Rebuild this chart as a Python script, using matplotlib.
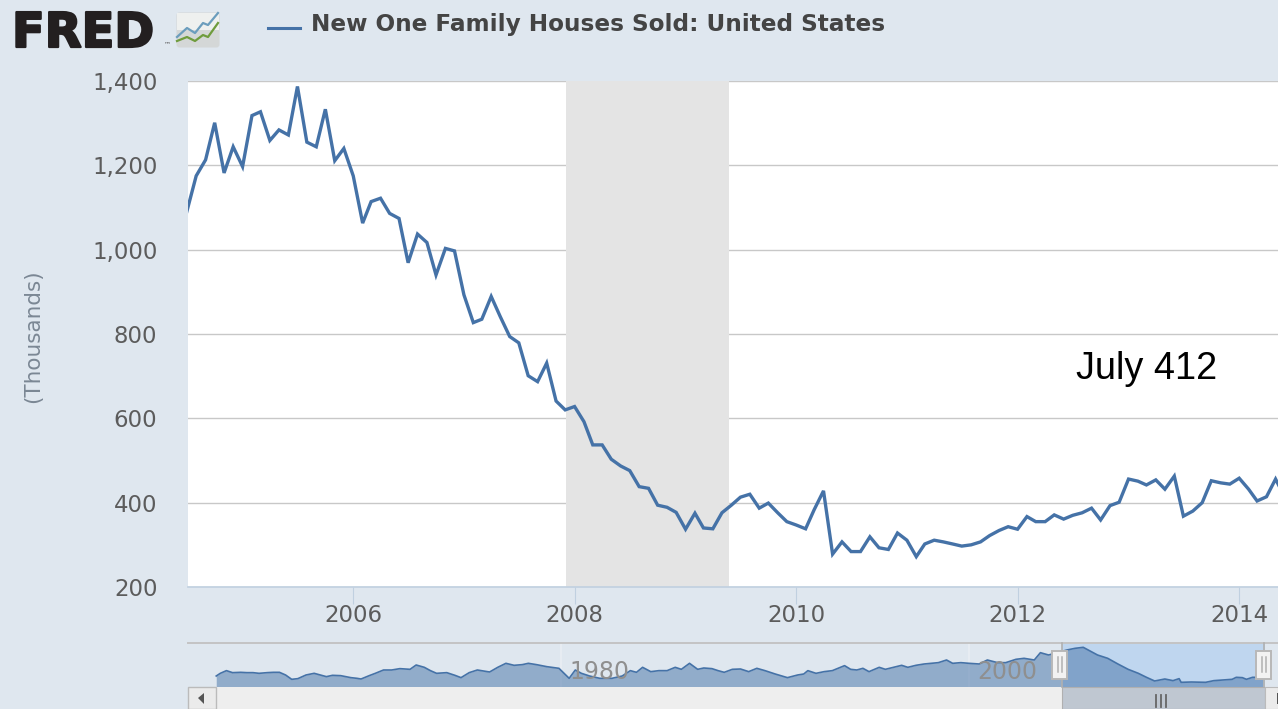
import matplotlib
matplotlib.use("Agg")
import matplotlib.pyplot as plt
import matplotlib.dates as mdates
import matplotlib.patheffects as pe
from matplotlib.patches import Rectangle, FancyBboxPatch, Polygon
import pandas as pd

W, H = 1278, 709
BG = "#dfe7ef"
BLUE = "#4572a7"

# ---------- data ----------
start_month = "2004-07-01"
sales = [
    1090, 1175, 1213, 1301, 1182, 1244, 1197, 1318, 1327, 1259, 1284, 1272,
    1387, 1255, 1244, 1333, 1211, 1240, 1175, 1063, 1114, 1122, 1086, 1074,
    969, 1037, 1017, 940, 1003, 997, 893, 827, 835, 889, 841, 794,
    779, 701, 687, 731, 641, 620, 628, 592, 537, 537, 503, 487,
    476, 438, 434, 394, 389, 377, 337, 375, 340, 338, 376, 394,
    413, 420, 387, 399, 376, 355, 347, 338, 383, 428, 278, 307,
    284, 284, 319, 293, 289, 328, 311, 272, 302, 311, 307, 302,
    297, 300, 307, 322, 334, 343, 337, 367, 355, 355, 371, 361,
    370, 376, 387, 359, 393, 401, 456, 451, 442, 454, 432, 463,
    368, 380, 400, 452, 447, 444, 458, 432, 404, 414, 456, 412,
]
recession_start = "2007-12-04"
recession_end = "2009-05-25"
y_ticks = [200, 400, 600, 800, 1000, 1200, 1400]
x_tick_years = [2006, 2008, 2010, 2012, 2014]
x_start = "2004-07-05"
x_end = "2014-05-09"

nav_years = [
    1963.1, 1963.3, 1963.6, 1963.9, 1964.3, 1964.6, 1964.9, 1965.2, 1965.6, 1965.9,
    1966.2, 1966.5, 1966.8, 1967.1, 1967.5, 1967.9, 1968.2, 1968.5, 1968.8, 1969.2,
    1969.7, 1970.0, 1970.2, 1970.6, 1970.9, 1971.3, 1971.7, 1972.1, 1972.6, 1972.9,
    1973.3, 1973.6, 1973.9, 1974.4, 1974.8, 1975.1, 1975.5, 1975.9, 1976.5, 1976.9,
    1977.3, 1977.7, 1978.1, 1978.4, 1978.8, 1979.3, 1979.9, 1980.1, 1980.4, 1980.7,
    1981.0, 1981.4, 1981.9, 1982.5, 1983.0, 1983.4, 1983.7, 1984.0, 1984.4, 1984.8,
    1985.2, 1985.6, 1985.9, 1986.3, 1986.7, 1987.0, 1987.4, 1987.7, 1988.0, 1988.4,
    1988.8, 1989.2, 1989.6, 1990.0, 1990.5, 1991.1, 1991.6, 1991.9, 1992.1, 1992.5,
    1992.9, 1993.3, 1993.9, 1994.2, 1994.5, 1994.8, 1995.1, 1995.6, 1995.9, 1996.3,
    1996.7, 1997.0, 1997.4, 1997.8, 1998.5, 1998.9, 1999.2, 1999.6, 2000.0, 2000.5,
    2000.9, 2001.4, 2001.8, 2002.3, 2002.7, 2003.2, 2003.5, 2003.9, 2004.8, 2005.2,
    2005.6, 2006.0, 2006.3, 2006.8, 2007.3, 2007.8, 2008.3, 2008.7, 2009.1, 2009.6,
    2010.0, 2010.3, 2010.4, 2010.9, 2011.6, 2012.0, 2012.9, 2013.1, 2013.4, 2013.6,
    2013.9, 2014.4,
]
nav_values = [
    487, 570, 653, 591, 601, 591, 591, 570, 591, 601,
    601, 518, 384, 405, 518, 570, 518, 467, 508, 498,
    436, 415, 394, 498, 570, 673, 673, 715, 694, 828,
    756, 653, 570, 591, 508, 436, 591, 673, 611, 756,
    880, 818, 839, 880, 839, 777, 725, 601, 415, 673,
    570, 487, 415, 415, 487, 653, 601, 756, 622, 653,
    653, 756, 694, 880, 694, 735, 715, 653, 601, 694,
    704, 622, 725, 653, 549, 436, 518, 549, 653, 570,
    622, 653, 808, 694, 673, 725, 622, 756, 694, 756,
    818, 756, 818, 859, 901, 983, 880, 901, 880, 859,
    983, 901, 901, 1004, 1035, 983, 1210, 1138, 1293, 1345,
    1376, 1241, 1138, 1035, 859, 694, 570, 446, 332, 394,
    343, 405, 291, 301, 291, 343, 384, 446, 436, 384,
    446, 446,
]
nav_labels = [1980, 2000]
series_name = "New One Family Houses Sold: United States"
unit_label = "(Thousands)"
note = "July 412"

# ---------- figure ----------
fig = plt.figure(figsize=(W / 100, H / 100), dpi=100, facecolor=BG)


def px_axes(x0, y0, x1, y1):
    return fig.add_axes([x0 / W, 1 - y1 / H, (x1 - x0) / W, (y1 - y0) / H])


# ---------- main chart ----------
ax = px_axes(188, 81, 1278, 587)
ax.set_facecolor("white")
dates = pd.date_range(start_month, periods=len(sales), freq="MS")
ax.axvspan(pd.Timestamp(recession_start), pd.Timestamp(recession_end),
           color="#e4e4e4", lw=0, zorder=1)
ax.grid(axis="y", color="#c8c8c8", lw=1.0, zorder=2)
ax.set_axisbelow(True)
ax.plot(dates, sales, color=BLUE, lw=2.4, solid_joinstyle="miter", zorder=3)
ax.set_xlim(pd.Timestamp(x_start), pd.Timestamp(x_end))
ax.set_ylim(200, 1400)
ax.set_yticks(y_ticks)
ax.set_yticklabels([f"{v:,}" for v in y_ticks])
ax.set_xticks([pd.Timestamp(f"{y}-01-01") for y in x_tick_years])
ax.xaxis.set_major_formatter(mdates.DateFormatter("%Y"))
ax.tick_params(axis="y", length=0, pad=22, labelsize=16.5, labelcolor="#5c5c5c")
ax.tick_params(axis="x", length=12, width=0.8, color="#c0d0e0", pad=0,
               labelsize=16.5, labelcolor="#5c5c5c")
for s in ("top", "left", "right"):
    ax.spines[s].set_visible(False)
ax.spines["bottom"].set_color("#c0d0e0")
ax.spines["bottom"].set_linewidth(1.2)
ax.text(0.8145, 0.4315, note, transform=ax.transAxes, family="Liberation Sans",
        fontsize=27.3, color="black", va="center", ha="left", zorder=5)

# ---------- navigator ----------
nav = px_axes(188, 643, 1278, 687)
nav.set_facecolor(BG)
nav_year_left = 1980 + (188 - 561) / 20.4
nav_year_right = 1980 + (1278 - 561) / 20.4
nav.set_xlim(nav_year_left, nav_year_right)
nav.set_ylim(146, 1510)
sel0 = 1980 + (1062 - 561) / 20.4
sel1 = 1980 + (1265 - 561) / 20.4
nav.axvspan(sel0, sel1, color="#bfd6ef", lw=0, zorder=1)
for y in nav_labels:
    nav.axvline(y, color="#e9eef3", lw=1.2, zorder=1.5)
    nav.text(y + 0.42, 0.33, str(y), transform=nav.get_xaxis_transform(),
             fontsize=17, color="#8f8f8f", va="center", ha="left", zorder=4)
nav.fill_between(nav_years, nav_values, 146, color=BLUE, alpha=0.5, lw=0, zorder=2)
nav.plot(nav_years, nav_values, color=BLUE, lw=1.2, zorder=3)
nav.set_xticks([])
nav.set_yticks([])
for s in ("left", "right", "bottom"):
    nav.spines[s].set_visible(False)
nav.spines["top"].set_color("#c4c4c4")
nav.spines["top"].set_linewidth(1.4)

# ---------- page furniture, in pixel coordinates ----------
ov = fig.add_axes([0, 0, 1, 1], facecolor="none")
ov.set_xlim(0, W)
ov.set_ylim(H, 0)
ov.axis("off")


def rect(x0, y0, x1, y1, fc, ec="none", lw=0.0, z=5):
    ov.add_patch(Rectangle((x0, y0), x1 - x0, y1 - y0, fc=fc, ec=ec, lw=lw, zorder=z))


# scrollbar
rect(216, 687, 1062, 709, "#eeeeee")
rect(187.5, 687, 216, 709, "#ebebeb", "#bbbbbb", 1)
ov.add_patch(Polygon([[198, 698], [204, 693], [204, 704]], fc="#555555", zorder=6))
rect(1062, 687, 1265, 709, "#bfc7d1", "#b0b0b0", 0.8)
for gx in (1156, 1161, 1166):
    ov.plot([gx, gx], [695, 707], color="#666666", lw=1.3, zorder=6)
rect(1265, 687, 1278, 709, "#ebebeb", "#bbbbbb", 0.8)
ov.add_patch(Polygon([[1277, 693], [1278, 693], [1278, 704], [1277, 704]], fc="#555555", zorder=6))

# navigator handles
for cx, hx0, hx1 in ((1062, 1052, 1067), (1264, 1256, 1271)):
    ov.plot([cx, cx], [643, 687], color="#b0b0b0", lw=1.2, zorder=5)
    rect(hx0, 650.5, hx1, 678.5, "#f2f2f2", "#b8b8b8", 1.4, z=6)
    mid = (hx0 + hx1) / 2
    for dx in (-2, 2):
        ov.plot([mid + dx, mid + dx], [657, 672], color="#b0b0b0", lw=1.1, zorder=7)

# FRED logo
ov.text(12, 47, "FRED", fontsize=34.5, fontweight="bold", color="#231f20",
        va="baseline", ha="left", family="DejaVu Sans",
        path_effects=[pe.withStroke(linewidth=1.6, foreground="#231f20")])
ov.text(164, 44.5, "\u2122", fontsize=5, color="#555555", va="center", ha="left")
ov.add_patch(FancyBboxPatch((178, 14), 40, 32, boxstyle="round,pad=1.5,rounding_size=3",
                            fc="#d4d7d7", ec="none", zorder=2))
rect(177, 13, 219, 30, "#eef0ef", z=2.5)
icon_x = [177, 187, 195, 203, 208, 218]
icon_blue = [37, 28, 33, 23, 25, 13]
icon_green = [41, 37, 41, 35, 37, 23]
ov.plot(icon_x, icon_blue, color="#6b9dbd", lw=1.6, zorder=3)
ov.plot(icon_x, icon_green, color="#6f9c3d", lw=1.6, zorder=3)

# legend
ov.plot([268, 300], [27.5, 27.5], color=BLUE, lw=2.2)
ov.text(311, 25, series_name, fontsize=16.7, fontweight="bold", color="#444444",
        va="center", ha="left")

# axis title
ov.text(33, 336, unit_label, rotation=90, fontsize=15.5, color="#7b8794",
        va="center", ha="center")

fig.savefig("out.png", dpi=100, facecolor=BG)
